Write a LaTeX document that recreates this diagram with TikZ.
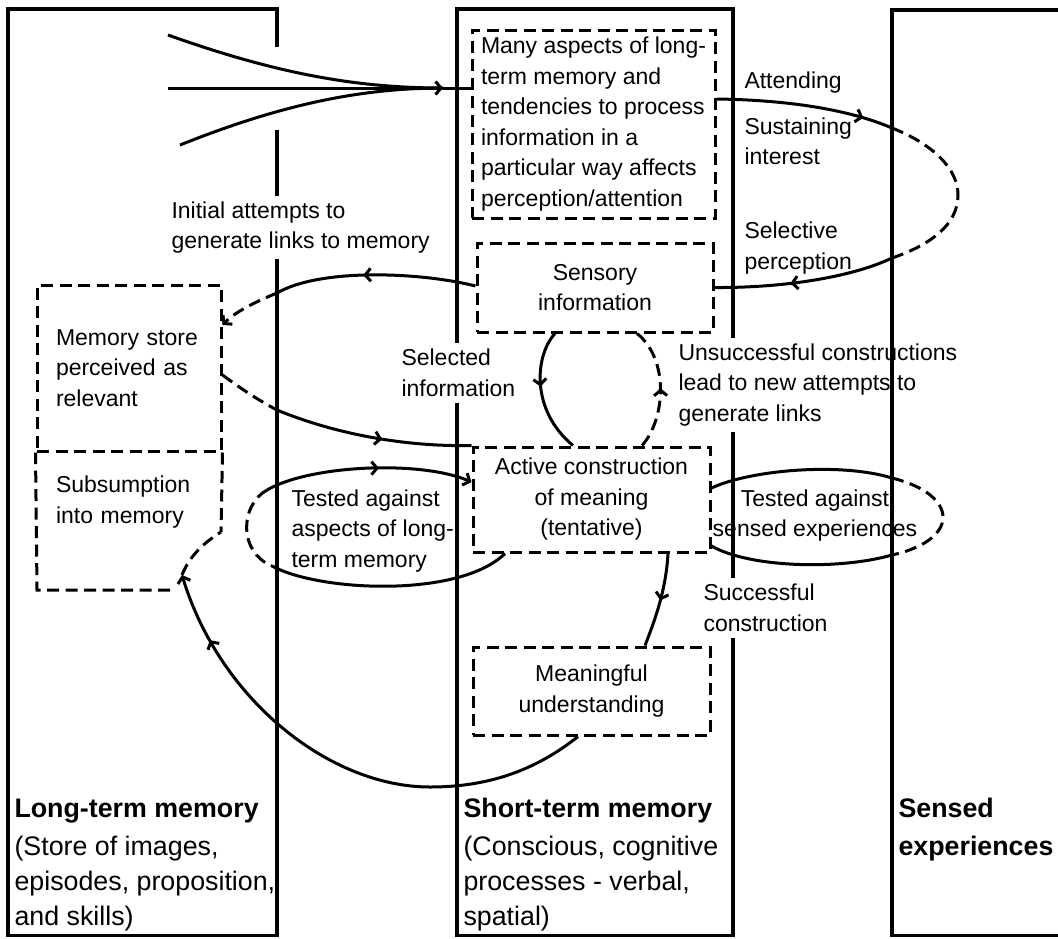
\documentclass[tikz,border=0pt]{standalone}
\usepackage{fontspec}
\setmainfont{Liberation Sans}
\usetikzlibrary{positioning,arrows.meta,decorations.markings}

\begin{document}
\begin{tikzpicture}[x=1pt, y=-1pt, line width=3pt,
    every node/.style={font=\fontsize{23}{30.5}\selectfont},
    frame/.style={line width=3.3pt},
    gap/.style={dash pattern=on 12pt off 6.5pt},
    membox/.style={draw, gap, align=center},
    lbl/.style={align=left, anchor=west, inner sep=0pt},
    cover/.style={lbl, fill=white, inner sep=6pt},
    big/.style={lbl, font=\fontsize{26.8}{35}\selectfont},
    tip/.style={-{Straight Barb[length=5.5pt,width=13pt]}},
    midarrow/.style={postaction={decorate}, decoration={markings,
        mark=at position #1 with {\arrow{Straight Barb[length=5.5pt,width=13pt]}}}}]
\useasboundingbox (0,0) rectangle (1058,938);

\draw[frame] (277,47) -- (277,9) -- (8,9) -- (8,935.5) -- (277,935.5) -- (277,130);
\draw[frame] (457,9) rectangle (733,935.5);

\node[cover] (initial) at (164,227.5) {Initial attempts to\\generate links to memory};
\node[cover] (selected) at (394,373) {Selected\\information};
\node[cover] (unsucc) at (671,385) {Unsuccessful constructions\\lead to new attempts to\\generate links};
\node[cover] (success) at (696,608) {Successful\\construction};

\draw[frame] (1070,10) -- (892,10) -- (892,935.5) -- (1070,935.5);

\node[membox, align=left, minimum width=243pt, minimum height=188pt] (aspects) at (593.5,124)
    {Many aspects of long-\\term memory and\\tendencies to process\\information in a\\particular way affects\\perception/attention};
\node[membox, minimum width=236pt, minimum height=89pt] (sensory) at (595,287.5) {Sensory\\information};
\node[membox, minimum width=237pt, minimum height=105pt] (active) at (591.5,499.5) {Active construction\\of meaning\\(tentative)};
\node[membox, minimum width=237pt, minimum height=88pt] (meaning) at (591.5,691) {Meaningful\\understanding};
\node[membox, align=left, text width=146pt, inner xsep=19pt, minimum height=166pt] (store) at (129,368)
    {Memory store\\perceived as\\relevant};
\node[align=left, text width=146pt, inner xsep=19pt] (subsum) at (129,502) {Subsumption\\into memory};
\draw[gap] (store.south east) -- (221,532) coordinate (cut);
\draw[gap] (170,590) -- (37,590) -- (store.south west);

\node[lbl] (attending) at (743,83) {Attending};
\node[lbl] (sustain) at (743,141.5) {Sustaining\\interest};
\node[lbl] (selective) at (743,248) {Selective\\perception};
\node[lbl] (testlong) at (290,531) {Tested against\\aspects of long-\\term memory};
\node[align=center] (testsense) at (815,515.5) {Tested against\\sensed experiences};

\node[big] (ltm) at (13,865) {\textbf{Long-term memory}\\[3pt](Store of images,\\episodes, proposition,\\and skills)};
\node[big] (stm) at (462,865) {\textbf{Short-term memory}\\[3pt](Conscious, cognitive\\processes - verbal,\\spatial)};
\node[big] (sensed) at (897,830) {\textbf{Sensed}\\[3pt]\textbf{experiences}};

\coordinate (src1) at (168,35);
\coordinate (src2) at (168,88);
\coordinate (src3) at (180,145);
\coordinate (merge) at (443,88);
\draw (src1) .. controls (280,75) and (360,88) .. (merge);
\draw (src3) .. controls (280,105) and (360,88) .. (merge);
\draw[tip] (src2) -- (merge);
\draw (merge) -- (aspects.west |- merge);

\coordinate (att) at (892,128);
\coordinate (sel) at (892,258);
\draw[midarrow=0.83] ([yshift=25pt]aspects.east) .. controls (790,100) and (850,110) .. (att);
\draw[gap] (att) .. controls (935,145) and (958,170) .. (958,195) .. controls (958,225) and (930,245) .. (sel);
\draw[midarrow=0.58] (sel) .. controls (850,278) and (780,288) .. (sensory.east);

\coordinate (c1) at (277,293);
\draw[midarrow=0.56] ([yshift=1.5pt]sensory.west) .. controls (420,272) and (320,268) .. (c1);
\draw[gap, tip] (c1) .. controls (255,302) and (235,312) .. ([yshift=43pt]store.east);

\coordinate (c2) at (277,410);
\draw[gap] ([yshift=-7pt]store.east) .. controls (240,388) and (258,400) .. (c2);
\draw[midarrow=0.55] (c2) .. controls (330,432) and (400,447) .. (active.north west);

\draw[midarrow=0.45] ([xshift=-40pt]sensory.south) .. controls (535,355) and (530,410) .. ([xshift=-18.5pt]active.north);
\draw[gap, midarrow=0.5] ([xshift=50.5pt]active.north) .. controls (665,420) and (670,360) .. ([xshift=42pt]sensory.south);

\draw[midarrow=0.5] ([xshift=76.5pt]active.south) .. controls (666,590) and (655,620) .. ([xshift=53.5pt]meaning.north);

\coordinate (c3) at (182,575);
\draw[midarrow=0.86, tip] ([xshift=-13.5pt]meaning.south) .. controls (530,775) and (480,787) .. (430,787)
    .. controls (330,787) and (220,700) .. (c3);
\draw[gap] (c3) .. controls (190,555) and (205,542) .. (cut);

\coordinate (c4) at (267,490);
\coordinate (c5) at (272,566);
\draw[midarrow=0.55, tip] (c4) .. controls (310,465) and (420,460) .. ([yshift=17.5pt]active.west);
\draw[gap] (c4) .. controls (240,505) and (238,552) .. (c5);
\draw (c5) .. controls (320,592) and (460,598) .. ([xshift=-86.5pt]active.south);

\coordinate (c6) at (892,478);
\coordinate (c7) at (892,555);
\draw ([yshift=11.5pt]active.east) .. controls (750,470) and (840,462) .. (c6);
\draw[gap] (c6) .. controls (960,495) and (960,540) .. (c7);
\draw (c7) .. controls (840,570) and (750,568) .. ([yshift=-46.5pt]active.east);
\end{tikzpicture}
\end{document}
